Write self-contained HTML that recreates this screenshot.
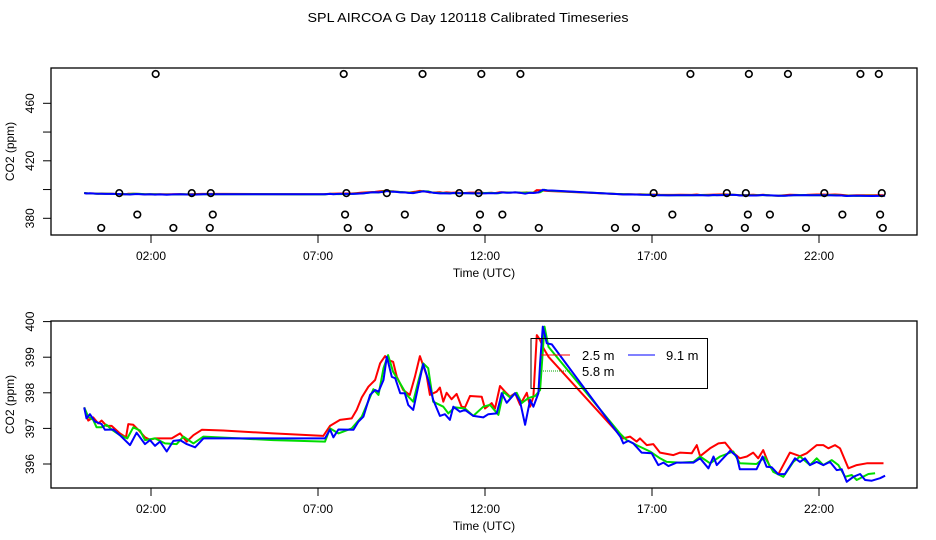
<!DOCTYPE html>
<html><head><meta charset="utf-8"><style>
html,body{margin:0;padding:0;background:#fff;}
svg{display:block;font-family:"Liberation Sans",sans-serif;}
</style></head><body>
<svg id="chart" width="936" height="540" viewBox="0 0 936 540" xmlns="http://www.w3.org/2000/svg">
<defs>
<clipPath id="clipTop"><rect x="51" y="68" width="866" height="167"/></clipPath>
<clipPath id="clipBot"><rect x="51" y="321" width="866" height="167"/></clipPath>
</defs>
<text x="468" y="22" text-anchor="middle" font-size="13" textLength="321" lengthAdjust="spacingAndGlyphs">SPL AIRCOA G  Day 120118  Calibrated Timeseries</text>
<g id="top"></g>
<g id="bot"></g>
</svg>
<script>
// ---- data (hours UTC, CO2 ppm) ----
const redH=[0,0.12,0.27,0.42,0.52,0.67,0.82,1.07,1.25,1.32,1.47,1.62,1.82,1.97,2.12,2.62,2.87,3.07,3.27,3.52,4.16,5.66,7.16,7.36,7.66,8.01,8.16,8.31,8.51,8.71,8.86,9.01,9.10,9.25,9.36,9.55,9.75,9.90,10.05,10.25,10.35,10.55,10.65,10.75,10.85,11.00,11.15,11.30,11.40,11.55,11.90,12.00,12.20,12.30,12.45,12.60,12.75,12.90,13.05,13.25,13.35,13.45,13.55,13.65,13.75,13.90,15.94,16.14,16.34,16.54,16.64,16.84,17.04,17.24,17.64,17.84,18.19,18.34,18.44,18.74,18.99,19.19,19.43,19.63,19.84,20.03,20.18,20.33,20.53,20.78,21.13,21.43,21.63,21.93,22.13,22.28,22.48,22.63,22.88,23.13,23.43,23.93];
const redV=[397.59,397.22,397.31,397.14,397.22,397.07,397.07,396.86,396.75,397.12,397.10,396.96,396.75,396.68,396.72,396.72,396.86,396.63,396.81,396.96,396.94,396.86,396.79,397.07,397.24,397.28,397.52,397.87,398.17,398.36,398.83,399.03,398.92,398.87,398.45,398.08,397.94,398.45,399.03,398.50,397.94,398.03,398.15,397.75,398.00,397.82,397.97,397.61,397.59,397.91,397.89,397.56,397.71,397.56,398.19,398.03,397.89,397.99,397.66,398.00,397.61,397.89,399.62,399.48,399.25,399.01,396.91,396.72,396.77,396.63,396.72,396.53,396.56,396.32,396.25,396.32,396.30,396.53,396.22,396.44,396.58,396.60,396.32,396.16,396.21,396.32,396.16,396.39,395.92,395.71,396.32,396.22,396.30,396.53,396.53,396.44,396.53,396.44,395.88,395.97,396.02,396.02];
const greenH=[0,0.12,0.27,0.37,0.52,0.67,0.82,1.07,1.29,1.47,1.67,1.82,2.12,2.42,2.77,2.97,3.27,3.57,5.66,6.46,7.21,7.36,7.61,8.01,8.31,8.66,8.81,8.96,9.10,9.25,9.40,9.66,9.85,10.00,10.15,10.30,10.45,10.75,10.90,11.10,11.40,11.65,11.95,12.15,12.40,12.55,12.75,12.95,13.10,13.30,13.50,13.65,13.78,13.90,16.04,16.24,16.54,16.94,17.24,17.44,17.84,18.24,18.44,18.74,19.04,19.43,19.63,20.13,20.38,20.63,20.93,21.23,21.43,21.73,21.93,22.13,22.38,22.58,22.78,22.98,23.13,23.48,23.68];
const greenV=[397.59,397.33,397.24,397.03,397.03,397.10,396.97,396.81,396.72,397.03,396.94,396.67,396.72,396.58,396.56,396.77,396.58,396.77,396.67,396.65,396.63,397.00,396.86,397.00,397.33,398.10,397.94,398.69,399.06,398.59,398.36,397.94,397.75,398.31,398.83,398.69,397.75,397.61,397.42,397.59,397.56,397.35,397.61,397.66,397.38,398.03,397.87,398.00,397.71,397.85,397.91,398.08,399.86,399.29,396.86,396.67,396.53,396.35,396.16,396.06,396.04,396.06,396.21,396.02,396.21,396.35,396.02,396.00,396.19,395.78,395.64,396.06,396.21,395.97,396.16,395.97,396.11,395.97,395.64,395.69,395.55,395.72,395.74];
const blueH=[0,0.07,0.17,0.32,0.52,0.62,0.87,1.07,1.37,1.57,1.82,1.97,2.12,2.27,2.47,2.67,2.87,3.07,3.32,3.57,6.66,7.21,7.36,7.46,7.61,8.06,8.21,8.36,8.56,8.71,8.81,8.96,9.06,9.21,9.31,9.46,9.60,9.70,9.85,10.00,10.15,10.30,10.45,10.65,10.80,10.95,11.05,11.25,11.40,11.65,11.95,12.10,12.35,12.45,12.50,12.65,12.90,13.05,13.20,13.35,13.45,13.60,13.65,13.73,13.85,14.00,16.05,16.14,16.29,16.44,16.69,16.99,17.19,17.34,17.49,17.74,18.24,18.44,18.69,18.84,18.94,19.13,19.34,19.54,19.63,20.13,20.31,20.43,20.58,20.78,20.98,21.28,21.43,21.58,21.73,21.93,22.13,22.33,22.53,22.68,22.83,23.03,23.23,23.38,23.58,23.83,23.98];
const blueV=[397.59,397.28,397.40,397.19,397.12,396.96,396.97,396.81,396.53,396.88,396.56,396.67,396.51,396.63,396.35,396.65,396.67,396.56,396.47,396.72,396.72,396.72,396.97,396.75,396.97,396.96,397.19,397.33,397.94,398.08,398.03,398.36,399.01,398.45,398.41,397.99,397.99,397.66,397.52,398.17,398.81,398.36,397.80,397.35,397.40,397.24,397.61,397.47,397.52,397.35,397.31,397.40,397.42,397.78,397.99,397.72,397.99,397.75,397.10,397.80,397.61,397.99,398.83,399.86,399.39,399.36,396.77,396.58,396.65,396.58,396.32,396.30,395.97,396.04,395.94,396.04,396.04,396.16,395.88,396.21,395.97,396.16,396.37,396.21,395.85,395.85,396.21,395.92,395.91,395.71,395.72,396.16,396.06,396.16,395.97,396.06,395.97,396.06,395.83,395.85,395.50,395.64,395.72,395.55,395.53,395.60,395.67];
// flag circles in top panel
const flagTopH=[2.14,7.77,10.13,11.89,13.06,18.15,19.90,21.07,23.24,23.79];
const flagTopV=480.4;
const flagMidH=[1.05,3.22,3.79,7.85,9.06,11.23,11.81,17.05,19.24,19.81,22.16,23.88];
const flagMidV=397.5;
const flag383H=[1.59,3.85,7.81,9.60,11.85,12.52,17.61,19.87,20.53,22.70,23.83];
const flag383V=382.6;
const flag373H=[0.51,2.67,3.76,7.89,8.52,10.68,11.77,13.61,15.89,16.52,18.70,19.78,21.61,23.91];
const flag373V=373.3;
const xTickH=[2,7,12,17,22];
const xTickLabels=["02:00","07:00","12:00","17:00","22:00"];
const topYTicks=[380,400,420,440,460];
const topYLabels=["380","","420","","460"];
const botYTicks=[396,397,398,399,400];
const botYLabels=["396","397","398","399","400"];

// ---- scales ----
const NS="http://www.w3.org/2000/svg";
function xS(h){return 84.2+33.4*h;}
function yTop(v){return 218.3-(v-380)*1.4375;}
function yBot(v){return 464-(v-396)*35.6;}
function mk(tag,attrs,parent){const e=document.createElementNS(NS,tag);for(const k in attrs)e.setAttribute(k,attrs[k]);parent.appendChild(e);return e;}

function panel(g,top,bottom,yFn,yTicks,yLabels,clipId,prefix){
  const box=mk('rect',{x:51,y:top,width:866,height:bottom-top,fill:'none',stroke:'#000','stroke-width':1.3},g);
  
  
  xTickH.forEach((h,i)=>{
    const t=mk('line',{x1:xS(h),x2:xS(h),y1:bottom,y2:bottom+8,stroke:'#000','stroke-width':1},g);
    
    
    const l=mk('text',{x:xS(h),y:bottom+25,'text-anchor':'middle','font-size':12},g);
    l.textContent=xTickLabels[i];
    
    
  });
  yTicks.forEach((v,i)=>{
    const y=yFn(v);
    const t=mk('line',{x1:43,x2:51,y1:y,y2:y,stroke:'#000','stroke-width':1},g);
    
    
    if(yLabels[i]){
      const l=mk('text',{x:34,y:y,'text-anchor':'middle','font-size':12,transform:'rotate(-90 34 '+y+')'},g);
      l.textContent=yLabels[i];
      
      
    }
  });
  const xt=mk('text',{x:484,y:bottom+42,'text-anchor':'middle','font-size':12},g);
  xt.textContent='Time (UTC)';
  
  
  const cy=(top+bottom)/2;
  const yt=mk('text',{x:14,y:cy,'text-anchor':'middle','font-size':12,transform:'rotate(-90 14 '+cy+')'},g);
  yt.textContent='CO2 (ppm)';
  
  
  const lg=mk('g',{'clip-path':'url(#'+clipId+')'},g);
  const series=[[redH,redV,'#ff0000','red-2.5m'],[greenH,greenV,'#00dd00','green-5.8m'],[blueH,blueV,'#0000ff','blue-9.1m']];
  series.forEach(s=>{
    const d=s[0].map((h,i)=>(i?'L':'M')+xS(h).toFixed(1)+' '+yFn(s[1][i]).toFixed(1)).join(' ');
    const p=mk('path',{d:d,fill:'none',stroke:s[2],'stroke-width':2,'stroke-linejoin':'round'},lg);
    
    
  });
  return lg;
}

const topG=document.getElementById('top');
const topLines=panel(topG,68,235,yTop,topYTicks,topYLabels,'clipTop','top');
[[flagTopH,flagTopV],[flagMidH,flagMidV],[flag383H,flag383V],[flag373H,flag373V]].forEach(f=>{
  f[0].forEach(h=>{
    const c=mk('circle',{cx:xS(h),cy:yTop(f[1]),r:3.3,fill:'none',stroke:'#000','stroke-width':1.6},topG);
    
    
  });
});

const botG=document.getElementById('bot');
panel(botG,321,488,yBot,botYTicks,botYLabels,'clipBot','bottom');

// legend
const leg=mk('g',{},botG);


mk('rect',{x:531,y:338.5,width:176.5,height:50,fill:'none',stroke:'#000','stroke-width':1},leg);
const items=[[541,570,355,'#ff0000','2.5 m',582,'none'],[541,570,371,'#00aa00','5.8 m',582,'1 1'],[628,655,355,'#0000ff','9.1 m',666,'none']];
items.forEach(it=>{
  const e=mk('g',{},leg);
  
  
  mk('line',{x1:it[0],x2:it[1],y1:it[2],y2:it[2],stroke:it[3],'stroke-width':1,'stroke-dasharray':it[6]},e);
  const t=mk('text',{x:it[5],y:it[2]+5,'font-size':13},e);
  t.textContent=it[4];
});
</script>
</body></html>
